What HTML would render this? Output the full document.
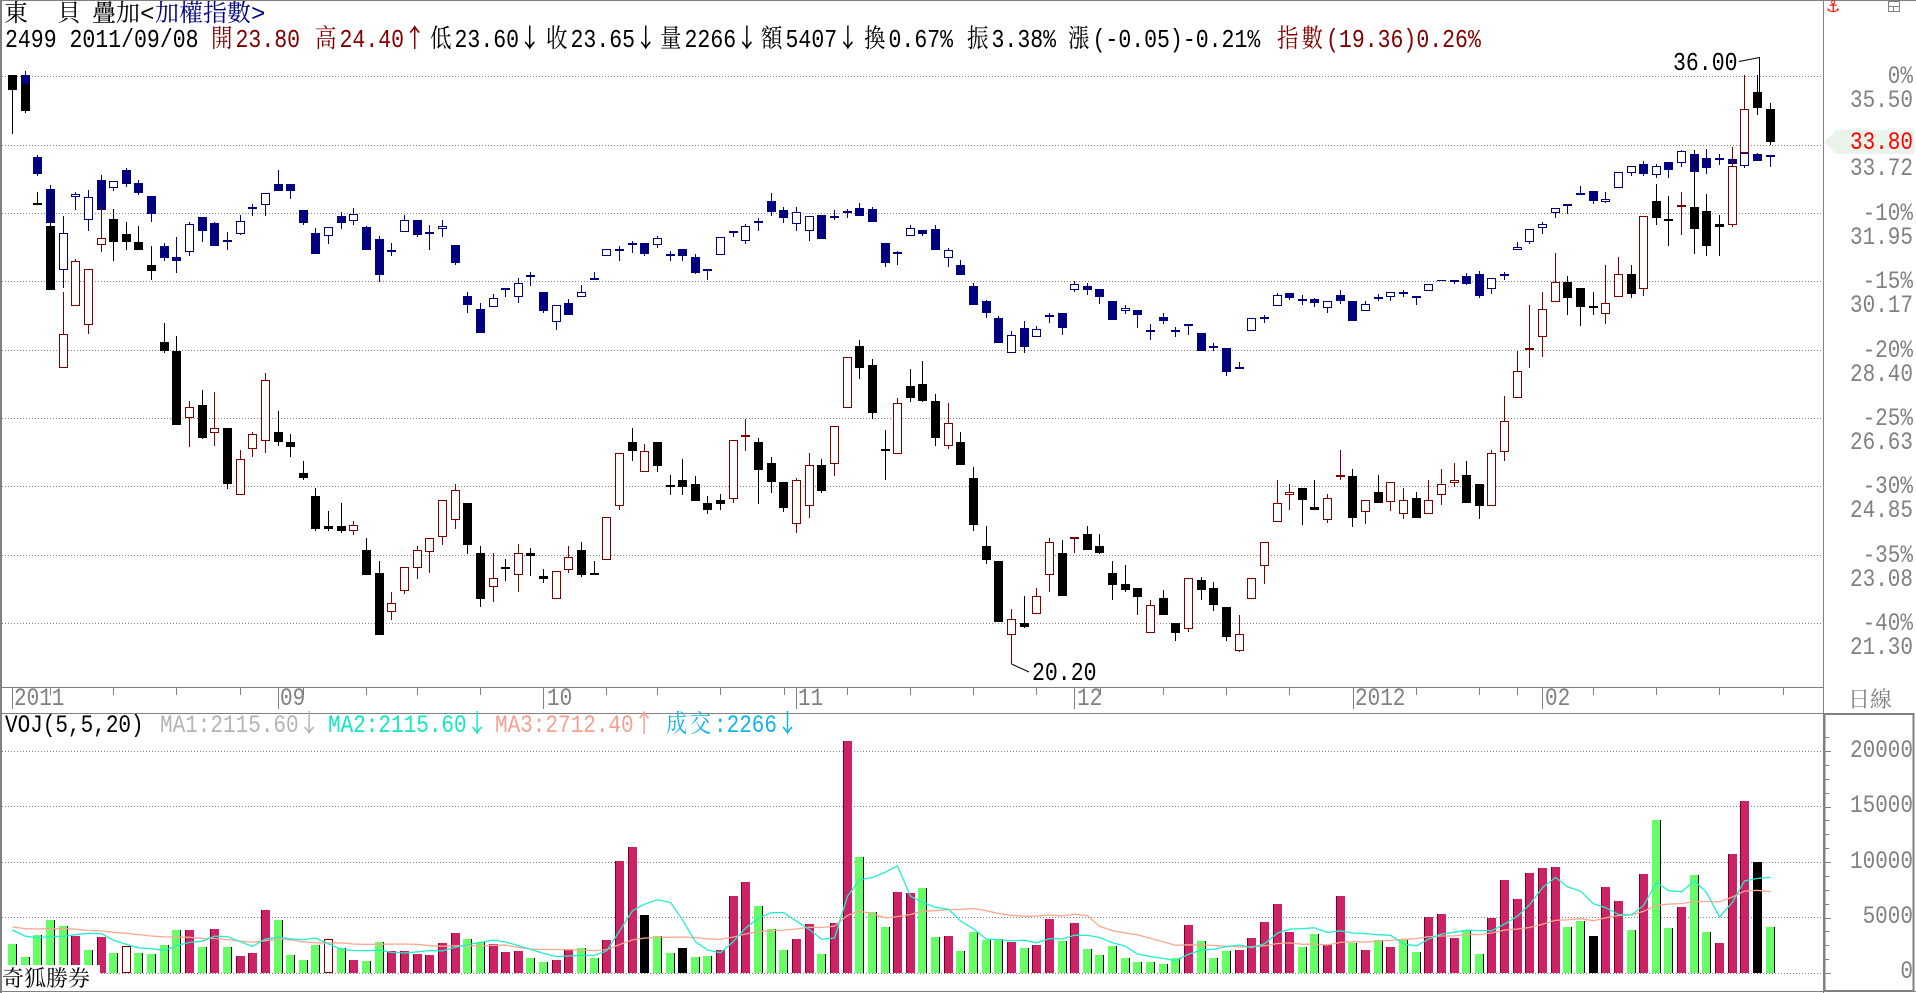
<!DOCTYPE html>
<html><head><meta charset="utf-8">
<style>
html,body{margin:0;padding:0;}
body{width:1916px;height:993px;position:relative;overflow:hidden;background:#fff;font-family:"Liberation Mono","Noto Serif CJK SC",monospace;}
.t{position:absolute;white-space:nowrap;line-height:20px;font-size:21px;transform:scaleY(1.2);transform-origin:0 0;}
.ax{color:#808080;right:3px;text-align:right;transform-origin:100% 0;}
.c{letter-spacing:3px;}
.a{font-family:"Noto Sans CJK JP","DejaVu Sans",sans-serif;line-height:0;}
.h1{position:absolute;top:3px;white-space:nowrap;font-size:24px;line-height:26px;font-family:"Liberation Mono","Noto Serif CJK SC",monospace;}
.l2{top:29px;font-size:21.5px;}
.dr{color:#800000;}
.gy{color:#808080;}
</style></head>
<body>
<svg id="s" width="1916" height="993" style="position:absolute;left:0;top:0" shape-rendering="crispEdges"></svg>

<!-- header line 1 -->
<div class="h1" style="left:4px">東</div>
<div class="h1" style="left:57px">貝</div>
<div class="h1" style="left:92px">疊加&lt;</div>
<div class="h1" style="left:155px;color:#000080">加權指數&gt;</div>

<!-- header line 2 -->
<div class="t l2" style="left:5px">2499 2011/09/08</div>
<div class="t l2 dr" style="left:211px"><span class="c">開</span>23.80</div>
<div class="t l2 dr" style="left:315px"><span class="c">高</span>24.40<span class="a">↑</span></div>
<div class="t l2" style="left:430px"><span class="c">低</span>23.60<span class="a">↓</span></div>
<div class="t l2" style="left:546px"><span class="c">收</span>23.65<span class="a">↓</span></div>
<div class="t l2" style="left:660px"><span class="c">量</span>2266<span class="a">↓</span></div>
<div class="t l2" style="left:761px"><span class="c">額</span>5407<span class="a">↓</span></div>
<div class="t l2" style="left:864px"><span class="c">換</span>0.67%</div>
<div class="t l2" style="left:967px"><span class="c">振</span>3.38%</div>
<div class="t l2" style="left:1068px"><span class="c">漲</span>(-0.05)-0.21%</div>
<div class="t l2 dr" style="left:1277px"><span class="c">指數</span>(19.36)0.26%</div>

<!-- top-right icons -->
<div style="position:absolute;left:1826px;top:-2px;font-family:'DejaVu Sans',sans-serif;font-size:16px;color:#ff0000;line-height:18px;">⚓</div>

<!-- price axis labels -->
<div class="t ax" style="top:66px">0%</div>
<div class="t ax" style="top:90px">35.50</div>
<div class="t ax" style="top:158px">33.72</div>
<div class="t ax" style="top:203px">-10%</div>
<div class="t ax" style="top:227px">31.95</div>
<div class="t ax" style="top:271px">-15%</div>
<div class="t ax" style="top:295px">30.17</div>
<div class="t ax" style="top:340px">-20%</div>
<div class="t ax" style="top:364px">28.40</div>
<div class="t ax" style="top:408px">-25%</div>
<div class="t ax" style="top:432px">26.63</div>
<div class="t ax" style="top:476px">-30%</div>
<div class="t ax" style="top:500px">24.85</div>
<div class="t ax" style="top:545px">-35%</div>
<div class="t ax" style="top:569px">23.08</div>
<div class="t ax" style="top:613px">-40%</div>
<div class="t ax" style="top:637px">21.30</div>
<div class="t ax" style="top:132px;color:#ff0000">33.80</div>

<!-- annotations -->
<div class="t" style="left:1673px;top:52px;font-size:21.5px">36.00</div>
<div class="t" style="left:1032px;top:662px;font-size:21.5px">20.20</div>

<!-- date labels -->
<div class="t gy" style="left:14px;top:688px">2011</div>
<div class="t gy" style="left:280px;top:688px">09</div>
<div class="t gy" style="left:547px;top:688px">10</div>
<div class="t gy" style="left:798px;top:688px">11</div>
<div class="t gy" style="left:1077px;top:688px">12</div>
<div class="t gy" style="left:1355px;top:688px">2012</div>
<div class="t gy" style="left:1545px;top:688px">02</div>
<div style="position:absolute;left:1848px;top:686px;font-family:'Noto Serif CJK SC',serif;font-size:22px;line-height:26px;color:#808080">日線</div>

<!-- volume header -->
<div class="t" style="left:5px;top:715px">VOJ(5,5,20)</div>
<div class="t" style="left:160px;top:715px;color:#b4b4b4">MA1:2115.60<span class="a">↓</span></div>
<div class="t" style="left:328px;top:715px;color:#10e8c0">MA2:2115.60<span class="a">↓</span></div>
<div class="t" style="left:495px;top:715px;color:#f4a090">MA3:2712.40<span class="a">↑</span></div>
<div class="t" style="left:666px;top:715px;color:#10b4f0"><span class="c">成交</span>:2266<span class="a">↓</span></div>

<!-- volume axis labels -->
<div class="t ax" style="top:740px">20000</div>
<div class="t ax" style="top:795px">15000</div>
<div class="t ax" style="top:851px">10000</div>
<div class="t ax" style="top:906px">5000</div>
<div class="t ax" style="top:961px">0</div>

<div style="position:absolute;left:2px;top:965px;width:98px;height:26px;background:#fff;font-family:'Noto Serif CJK SC',serif;font-size:22px;line-height:26px;color:#000;white-space:nowrap">奇狐勝券</div>

<script>
(function(){
const X=i=>Math.round(12+12.645*i);
const Y=o=>Math.round(56+o/2.474);
let h='';
const G='#808080';
[76,145,213,281,350,418,486,555,623].forEach(y=>{
  h+=`<line x1="2" y1="${y+0.5}" x2="1823" y2="${y+0.5}" stroke="${G}" stroke-dasharray="1 2"/>`;
});
[751,806,862,917,973].forEach(y=>{
  h+=`<line x1="2" y1="${y+0.5}" x2="1823" y2="${y+0.5}" stroke="${G}" stroke-dasharray="1 2"/>`;
});
h+=`<polygon points="1824,142 1836,130 1914,130 1914,154 1836,154" fill="#eaf4ea"/>`;

const S=[[0,'f',48,83,48,192],[1,'f',70,135,70,140],[2,'c',365,365,336,365],[3,'f',420,578,340,578],[4,'h',688,772,585,772],[5,'h',508,619,502,619],[6,'h',527,666,527,687],[7,'h',451,468,370,486],[8,'f',403,459,378,506],[9,'f',440,459,411,481],[10,'f',460,481,420,481],[11,'f',517,533,470,553],[12,'f',707,730,660,735],[13,'f',730,914,692,914],[14,'h',869,896,853,968],[15,'f',863,944,826,948],[16,'h',920,933,831,964],[17,'f',920,1058,920,1072],[18,'h',997,1087,974,1087],[19,'h',936,972,930,991],[20,'h',802,953,784,981],[21,'f',930,954,878,964],[22,'f',955,968,935,991],[23,'f',1031,1043,1002,1048],[24,'f',1088,1171,1068,1175],[25,'f',1162,1171,1125,1176],[26,'f',1162,1176,1106,1180],[27,'h',1160,1175,1150,1186],[28,'f',1222,1285,1192,1285],[29,'f',1279,1433,1249,1433],[30,'h',1353,1376,1326,1396],[31,'h',1264,1324,1264,1330],[32,'h',1222,1267,1212,1295],[33,'h',1193,1227,1193,1278],[34,'h',1098,1190,1098,1211],[35,'h',1074,1148,1059,1171],
[36,'f',1106,1211,1106,1233],[37,'f',1229,1344,1212,1362],[38,'h',1291,1314,1229,1352],[39,'c',1266,1266,1244,1300],[40,'h',1230,1285,1207,1325],[41,'f',1229,1238,1217,1286],[42,'f',1286,1295,1270,1305],[43,'h',1274,1344,1274,1344],[44,'h',1240,1272,1212,1278],[45,'f',1222,1283,1202,1290],[46,'f',1279,1285,1249,1285],[47,'h',1140,1247,1140,1247],[48,'h',982,1113,982,1124],[49,'f',955,976,920,1001],[50,'h',977,1029,960,1029],[51,'f',955,1015,955,1030],[52,'c',1065,1065,1036,1087],[53,'f',1049,1067,997,1087],[54,'f',1059,1100,1039,1100],[55,'f',1106,1124,1088,1134],[56,'f',1098,1109,1083,1124],[57,'h',950,1097,950,1105],[58,'r',940,940,898,976],[59,'f',955,1025,945,1109],[60,'f',1007,1053,992,1082],[61,'f',1054,1119,1054,1129],[62,'h',1049,1158,1044,1181],[63,'h',1012,1113,982,1144],[64,'f',1012,1077,997,1082],[65,'h',915,1010,915,1038],[66,'h',745,871,745,871],[67,'f',717,773,702,800],[68,'f',764,882,749,897],[69,'c',974,974,925,1048],[70,'h',858,985,846,985],[71,'f',816,847,774,857],
[72,'f',811,853,754,856],[73,'f',853,944,836,965],[74,'h',908,964,858,973],[75,'f',955,1011,930,1011],[76,'f',1044,1161,1017,1176],[77,'f',1212,1248,1162,1258],[78,'f',1249,1401,1249,1401],[79,'h',1392,1432,1368,1505],[80,'f',1402,1412,1336,1415],[81,'h',1336,1381,1316,1381],[82,'h',1202,1284,1192,1326],[83,'f',1229,1335,1197,1335],[84,'r',1193,1193,1193,1229],[85,'f',1183,1221,1162,1223],[86,'f',1212,1229,1182,1233],[87,'f',1279,1309,1249,1345],[88,'f',1306,1320,1259,1326],[89,'f',1316,1339,1316,1383],[90,'h',1359,1428,1346,1428],[91,'f',1340,1382,1321,1382],[92,'f',1402,1428,1402,1448],[93,'h',1291,1418,1291,1424],[94,'f',1297,1320,1290,1345],[95,'f',1316,1357,1301,1373],[96,'f',1363,1438,1363,1448],[97,'h',1431,1473,1383,1475],[98,'h',1291,1343,1291,1343],[99,'h',1203,1262,1203,1306],[100,'h',1106,1153,1049,1153],[101,'h',1079,1086,1059,1124],[102,'f',1069,1099,1069,1161],[103,'f',1115,1124,1049,1124],[104,'h',1094,1149,1083,1155],[105,'r',1040,1040,974,1048],[106,'f',1040,1144,1021,1166],[107,'h',1099,1129,1099,1159],
[108,'f',1078,1105,1036,1105],[109,'h',1054,1104,1054,1125],[110,'h',1099,1134,1068,1145],[111,'f',1093,1144,1078,1144],[112,'h',1099,1134,1049,1134],[113,'h',1059,1086,1021,1110],[114,'h',1049,1057,1007,1067],[115,'f',1036,1105,1002,1105],[116,'f',1059,1114,1059,1145],[117,'h',982,1113,974,1113],[118,'h',904,980,841,1001],[119,'h',780,847,730,847],[120,'h',723,728,616,773],[121,'h',627,695,584,744],[122,'h',560,609,487,609],[123,'f',559,598,544,640],[124,'f',575,620,575,667],[125,'c',622,622,584,640],[126,'h',611,638,517,662],[127,'h',540,597,497,597],[128,'f',540,588,517,598],[129,'h',395,577,395,593],[130,'f',359,402,317,419],[131,'f',404,409,346,469],[132,'r',370,370,336,444],[133,'f',373,429,232,491],[134,'f',383,469,341,496],[135,'f',415,424,393,496],[136,'h',271,418,226,424],[137,'h',132,239,48,239],[138,'f',89,129,48,145],[139,'f',131,212,117,220]];

const N=[[1,'f',47,70,38,70],[2,'f',250,293,245,298],[3,'f',329,414,318,414],[4,'h',438,530,396,575],[5,'h',342,348,336,382],[6,'h',349,406,331,434],[7,'f',307,380,294,380],[8,'h',310,327,310,335],[9,'f',282,316,277,323],[10,'f',314,338,307,344],[11,'f',346,390,346,410],[12,'f',470,499,462,508],[13,'f',497,508,448,536],[14,'h',415,486,410,494],[15,'f',398,434,398,461],[16,'f',413,471,411,471],[17,'c',458,458,435,480],[18,'h',407,441,393,444],[19,'c',375,375,366,395],[20,'h',340,369,340,395],[21,'f',317,333,282,333],[22,'f',317,333,317,353],[23,'f',381,413,381,419],[24,'f',438,489,425,491],[25,'h',424,446,424,464],[26,'f',397,414,386,427],[27,'h',392,407,376,417],[28,'f',423,479,420,481],[29,'f',453,543,445,560],[30,'c',483,483,462,496],[31,'h',406,436,393,436],[32,'f',406,442,406,447],[33,'c',438,438,418,479],[34,'h',420,428,406,449],[35,'f',467,513,467,518],
[36,'f',594,615,584,635],[37,'f',626,685,611,685],[38,'h',599,622,589,622],[39,'c',577,577,577,596],[40,'h',562,597,549,610],[41,'c',545,545,535,568],[42,'f',584,631,584,636],[43,'h',617,659,617,679],[44,'f',611,640,600,640],[45,'h',584,597,566,597],[46,'c',551,551,535,551],[47,'h',478,495,478,495],[48,'c',480,480,470,507],[49,'c',466,466,457,487],[50,'f',462,491,462,494],[51,'h',451,468,445,474],[52,'c',492,492,483,506],[53,'f',477,494,477,508],[54,'f',497,537,491,539],[55,'f',527,533,527,553],[56,'h',448,493,448,493],[57,'f',433,439,433,447],[58,'h',421,458,415,464],[59,'c',411,411,401,432],[60,'f',359,387,339,395],[61,'f',381,400,373,412],[62,'h',386,416,373,432],[63,'h',396,433,396,457],[64,'f',393,452,393,452],[65,'h',396,401,380,405],[66,'c',385,385,379,400],[67,'f',376,395,364,395],[68,'f',378,410,373,410],[69,'f',462,511,462,523],[70,'c',487,487,482,518],[71,'h',426,446,418,446],
[72,'f',430,440,430,445],[73,'f',428,480,418,480],[74,'h',480,500,476,522],[75,'f',517,541,505,541],[76,'f',569,617,561,617],[77,'f',607,635,603,648],[78,'f',648,711,643,711],[79,'h',690,734,680,736],[80,'f',673,720,655,735],[81,'h',676,696,668,696],[82,'h',641,646,636,660],[83,'f',636,672,636,690],[84,'h',565,580,557,584],[85,'f',569,578,561,591],[86,'f',576,595,576,613],[87,'f',606,652,606,652],[88,'h',624,632,616,638],[89,'f',628,642,628,673],[90,'c',680,680,663,702],[91,'f',646,655,636,664],[92,'c',680,680,670,694],[93,'c',666,666,666,690],[94,'f',685,729,685,729],[95,'c',721,721,710,731],[96,'f',722,781,722,791],[97,'c',771,771,757,775],[98,'h',649,681,649,681],[99,'c',649,649,640,660],[100,'h',592,619,586,619],[101,'f',587,598,587,603],[102,'c',603,603,591,617],[103,'f',601,612,598,621],[104,'h',606,624,606,636],[105,'f',591,605,579,613],[106,'f',606,655,606,655],[107,'h',614,632,605,632],
[108,'c',598,598,590,606],[109,'h',585,595,585,606],[110,'c',587,587,578,597],[111,'c',596,596,596,615],[112,'h',565,582,565,582],[113,'f',554,557,554,557],[114,'f',554,560,554,565],[115,'f',545,563,538,566],[116,'f',540,594,532,599],[117,'h',548,577,548,589],[118,'c',541,541,535,555],[119,'h',473,481,459,481],[120,'h',428,459,428,466],[121,'h',416,426,411,440],[122,'h',377,389,377,402],[123,'c',369,369,369,392],[124,'c',341,341,322,341],[125,'f',335,359,335,365],[126,'h',355,362,337,364],[127,'h',288,327,288,327],[128,'h',273,290,273,298],[129,'f',268,291,261,296],[130,'h',272,295,268,301],[131,'f',263,281,263,302],[132,'h',236,265,232,274],[133,'f',242,288,232,288],[134,'f',252,278,230,291],[135,'c',255,255,243,269],[136,'f',255,266,255,266],[137,'h',239,271,239,276],[138,'f',242,261,240,261],[139,'c',248,248,248,275]];

function cand(d,isN){
  const i=d[0],t=d[1];
  const cx=X(i),wx=cx+0.5;
  const A=Y(d[2]),B=Y(d[3]),H=Y(d[4]),L=Y(d[5]);
  let col=isN?'#000080':((t==='h'||t==='r')?'#800000':'#000000');
  if(t==='f'){
    if(L>H) h+=`<line x1="${wx}" y1="${H}" x2="${wx}" y2="${L}" stroke="${col}"/>`;
    h+=`<rect x="${cx-4}" y="${A}" width="9" height="${Math.max(1,B-A)}" fill="${col}"/>`;
  } else if(t==='h'){
    if(H<A) h+=`<line x1="${wx}" y1="${H}" x2="${wx}" y2="${A}" stroke="${col}"/>`;
    if(L>B) h+=`<line x1="${wx}" y1="${B}" x2="${wx}" y2="${L}" stroke="${col}"/>`;
    h+=`<rect x="${cx-3.5}" y="${A+0.5}" width="8" height="${Math.max(1,B-A-1)}" fill="#fff" stroke="${col}"/>`;
  } else {
    if(L>H) h+=`<line x1="${wx}" y1="${H}" x2="${wx}" y2="${L}" stroke="${col}"/>`;
    h+=`<rect x="${cx-4}" y="${A-1}" width="9" height="2" fill="${col}"/>`;
  }
}
N.forEach(d=>cand(d,true));
S.forEach(d=>cand(d,false));

h+=`<polyline points="1739,61.5 1759.5,57.5 1759.5,92" fill="none" stroke="#000" shape-rendering="auto"/>`;
h+=`<polyline points="1011.5,664 1029,672" fill="none" stroke="#000" shape-rendering="auto"/>`;

const VT=[618,657,591,546,564,593,636,597,645,625,645,648,621,576,576,627,573,627,654,645,516,546,651,666,621,604,630,666,669,612,639,639,648,651,615,585,603,612,618,642,639,660,672,666,633,630,660,606,369,327,531,594,645,630,657,654,636,474,432,504,573,636,603,558,648,555,10,357,522,567,462,465,
450,597,594,639,582,606,603,612,630,621,543,609,555,633,651,624,660,672,672,678,660,561,609,660,639,636,600,552,498,582,627,588,621,474,615,636,606,627,606,642,537,528,600,576,648,540,426,483,405,390,387,567,549,594,447,489,576,408,246,570,507,411,582,615,348,189,372,567];
const VC="gggggrgrgo"+"ggggrgrgrr"+"rggggogrgg"+"rrrrrrggrr"+"rggrrggrrr"+"kggkggrrrg"+"ggrrgrrggg"+"rr"+
"ggrggggrgr"+"rgrggggggg"+"grgggrrrrr"+"ggrrgrgrgg"+"rrrggrrrrr"+"rggkrrgrgg"+"rggrrrkg";
const base=973;
const vol=[];
VT.forEach((t,i)=>{
  const top=Math.round(738+t/3);
  vol.push((973.3-(738+t/3))*5000/55.5);
  const cx=X(i), c=VC[i];
  const hh=base-top;
  if(c==='r'){
    h+=`<rect x="${cx-4}" y="${top}" width="9" height="${hh}" fill="#cc2266"/>`;
    h+=`<line x1="${cx-3.5}" y1="${top}" x2="${cx-3.5}" y2="${base}" stroke="#7a0020"/>`;
  } else if(c==='g'){
    h+=`<rect x="${cx-4}" y="${top}" width="9" height="${hh}" fill="#66ff66"/>`;
    h+=`<line x1="${cx+4.5}" y1="${top}" x2="${cx+4.5}" y2="${base}" stroke="#000"/>`;
  } else if(c==='k'){
    h+=`<rect x="${cx-4}" y="${top}" width="9" height="${hh}" fill="#000"/>`;
  } else {
    h+=`<rect x="${cx-3.5}" y="${top+0.5}" width="8" height="${hh-1}" fill="#fff" stroke="#800000"/>`;
  }
});
function ma(n,pad){
  const arr=[];const ext=[];for(let k=0;k<n-1;k++)ext.push(pad);
  const all=ext.concat(vol);
  for(let i=0;i<vol.length;i++){let s=0;for(let k=0;k<n;k++)s+=all[i+k];arr.push(s/n);}
  return arr;
}
const m5=ma(5,4200), m20=ma(20,4250);
const pts=a=>a.map((v,i)=>`${X(i)+0.5},${(973.3-v*55.5/5000).toFixed(1)}`).join(' ');
h+=`<polyline points="${pts(m20)}" fill="none" stroke="#f8a890" stroke-width="1.3" shape-rendering="auto"/>`;
h+=`<polyline points="${pts(m5)}" fill="none" stroke="#22eecc" stroke-width="1.3" shape-rendering="auto"/>`;

h+=`<line x1="0" y1="0.5" x2="1916" y2="0.5" stroke="${G}"/>`;
h+=`<rect x="0" y="0" width="2" height="993" fill="${G}"/>`;
h+=`<line x1="1823.5" y1="0" x2="1823.5" y2="993" stroke="${G}"/>`;
h+=`<line x1="0" y1="687.5" x2="1823" y2="687.5" stroke="${G}"/>`;
h+=`<line x1="0" y1="713.5" x2="1823" y2="713.5" stroke="${G}"/>`;
h+=`<rect x="1824.5" y="714" width="89" height="277" fill="none" stroke="${G}" stroke-width="2"/>`;
h+=`<line x1="0" y1="991.5" x2="1916" y2="991.5" stroke="${G}"/>`;
for(let k=0;k<=17;k++){
  const y=Math.round(973-k*13.875)+0.5;
  const len=(k%4===0)?6:4;
  h+=`<line x1="1825" y1="${y}" x2="${1825+len}" y2="${y}" stroke="${G}"/>`;
}
[50,113,176,240,303,366,417,480,606,657,720,784,847,910,973,1036,1100,1163,1226,1289,1416,1479,1517,1593,1656,1719,1783].forEach(x=>{
  h+=`<line x1="${x+0.5}" y1="688" x2="${x+0.5}" y2="695" stroke="${G}"/>`;
});
[12,278,543,796,1074,1353,1542].forEach(x=>{
  h+=`<line x1="${x+0.5}" y1="688" x2="${x+0.5}" y2="709" stroke="${G}"/>`;
});
h+=`<rect x="1888.5" y="1.5" width="11" height="10" fill="none" stroke="${G}"/>`;
h+=`<line x1="1888.5" y1="6.5" x2="1899.5" y2="6.5" stroke="${G}"/>`;
h+=`<line x1="1893.5" y1="6.5" x2="1893.5" y2="11.5" stroke="${G}"/>`;

document.getElementById('s').innerHTML=h;
})();
</script>
</body></html>
